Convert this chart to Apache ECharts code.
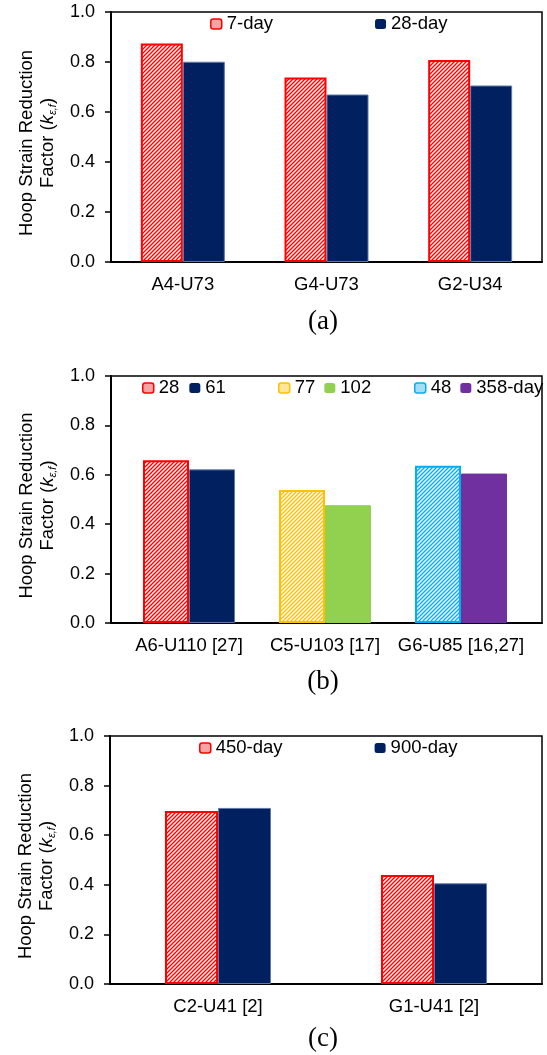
<!DOCTYPE html>
<html>
<head>
<meta charset="utf-8">
<script src="https://cdn.jsdelivr.net/npm/echarts@6/dist/echarts.min.js"></script>
<style>
html,body{margin:0;padding:0;background:#fff;}
#c{width:547px;height:1055px;}
</style>
</head>
<body>
<div id="c"></div>
<script>
// ---------- data ----------
const catsA = ['A4-U73', 'G4-U73', 'G2-U34'];
const a7day = [0.874, 0.738, 0.808];
const a28day = [0.801, 0.670, 0.706];

const catsB = ['A6-U110 [27]', 'C5-U103 [17]', 'G6-U85 [16,27]'];
const bFirstNames = ['28', '77', '48'];
const bFirstVals = [0.659, 0.538, 0.637];
const bSecondNames = ['61', '102', '358-day'];
const bSecondVals = [0.622, 0.477, 0.605];

const catsC = ['C2-U41 [2]', 'G1-U41 [2]'];
const c450day = [0.698, 0.440];
const c900day = [0.710, 0.406];

const yTicks = [0, 0.2, 0.4, 0.6, 0.8, 1.0];

// ---------- styles ----------
const SANS = '"Liberation Sans", Arial, Helvetica, sans-serif';
const SERIF = '"Liberation Serif", "Times New Roman", serif';
const NAVY = '#002060';

function hatch(col) {
  const c = document.createElement('canvas');
  c.width = 4; c.height = 4;
  const g = c.getContext('2d');
  g.fillStyle = '#fff'; g.fillRect(0, 0, 4, 4);
  g.strokeStyle = col; g.lineWidth = 1.4;
  g.beginPath();
  g.moveTo(0, 4); g.lineTo(4, 0);
  g.moveTo(-1, 1); g.lineTo(1, -1);
  g.moveTo(3, 5); g.lineTo(5, 3);
  g.stroke();
  return c;
}
const hatchStyle = (col) => ({ color: { image: hatch(col), repeat: 'repeat' }, borderColor: col, borderWidth: 2 });
const solidStyle = (col, b) => ({ color: col, borderColor: b || col, borderWidth: 1 });
const hatchIcon = (fill, border) => ({ color: fill, borderColor: border, borderWidth: 1.5 });
const solidIcon = (col) => ({ color: col, borderWidth: 0 });

const RED = '#ff0000', YEL = '#ffc000', CYA = '#00b0f0';
const firstStyles = [hatchStyle(RED), hatchStyle(YEL), hatchStyle(CYA)];
const firstIcons = [hatchIcon('#f6a3a3', RED), hatchIcon('#ffe699', YEL), hatchIcon('#a6ddf4', CYA)];
const secondColors = [NAVY, '#92d050', '#7030a0'];

// ---------- axes helpers ----------
function yAxisCfg(gi, visible) {
  if (!visible) return { gridIndex: gi, type: 'value', min: 0, max: 1, interval: 0.2, show: false };
  return {
    gridIndex: gi, type: 'value', min: yTicks[0], max: yTicks[yTicks.length - 1], interval: 0.2,
    axisLine: { show: true, lineStyle: { color: '#000', width: 2 } },
    axisTick: { show: true, length: 6, lineStyle: { color: '#000', width: 1.5 } },
    axisLabel: { formatter: v => v.toFixed(1), fontSize: 18, color: '#000', margin: 16, fontFamily: SANS },
    splitLine: { show: false },
    name: '{t|Hoop Strain Reduction}\n{t|Factor (}{k|k}{s|ε,f}{t|)}',
    nameLocation: 'middle', nameRotate: 90, nameGap: 53,
    nameTextStyle: {
      padding: [0, 12, 0, 0],
      rich: {
        t: { fontSize: 18.5, fontFamily: SANS, color: '#000', lineHeight: 21 },
        k: { fontSize: 18.5, fontFamily: SANS, fontStyle: 'italic', color: '#000', lineHeight: 21 },
        s: { fontSize: 11, fontFamily: SANS, fontStyle: 'italic', color: '#000', lineHeight: 21, verticalAlign: 'bottom' }
      }
    }
  };
}
function xCatCfg(gi, cats, showLine) {
  return {
    gridIndex: gi, type: 'category', data: cats,
    axisLine: { show: showLine, lineStyle: { color: '#000', width: 2 } },
    axisTick: { show: false },
    axisLabel: { fontSize: 18.5, color: '#000', margin: 13, fontFamily: SANS, interval: 0 }
  };
}

const frame = { show: true, borderColor: '#000', borderWidth: 1.5, backgroundColor: 'transparent' };

// ---------- series ----------
const series = [];
series.push({ type: 'bar', name: '7-day', xAxisIndex: 0, yAxisIndex: 0, data: a7day, barWidth: 42, barGap: '0%', itemStyle: hatchStyle(RED) });
series.push({ type: 'bar', name: '28-day', xAxisIndex: 0, yAxisIndex: 0, data: a28day, barWidth: 42, barGap: '0%', itemStyle: solidStyle(NAVY, '#5f78aa') });

for (let k = 0; k < catsB.length; k++) {
  series.push({
    type: 'bar', name: bFirstNames[k], xAxisIndex: 2, yAxisIndex: 2, stack: 'first',
    data: catsB.map((_, j) => (j === k ? bFirstVals[k] : null)),
    barWidth: 46, barGap: '0%', itemStyle: firstStyles[k]
  });
  series.push({
    type: 'bar', name: bSecondNames[k], xAxisIndex: 2, yAxisIndex: 2, stack: 'second',
    data: catsB.map((_, j) => (j === k ? bSecondVals[k] : null)),
    barWidth: 46, barGap: '0%', itemStyle: solidStyle(secondColors[k], k === 0 ? '#5f78aa' : secondColors[k])
  });
}

series.push({ type: 'bar', name: '450-day', xAxisIndex: 3, yAxisIndex: 3, data: c450day, barWidth: 53, barGap: '0%', itemStyle: hatchStyle(RED) });
series.push({ type: 'bar', name: '900-day', xAxisIndex: 3, yAxisIndex: 3, data: c900day, barWidth: 53, barGap: '0%', itemStyle: solidStyle(NAVY, '#5f78aa') });

// ---------- legends ----------
const legText = { fontSize: 18.5, color: '#000', fontFamily: SANS, lineHeight: 20 };
function legend(left, top, gap, items) {
  return { left: left, top: top, itemWidth: 11, itemHeight: 10, itemGap: gap, selectedMode: false, padding: 0, textStyle: legText, data: items };
}

const option = {
  animation: false,
  backgroundColor: '#fff',
  grid: [
    Object.assign({ left: 111, right: 5, top: 12, height: 250 }, frame),
    Object.assign({ left: 111, right: 5, top: 376, height: 247 }, frame),
    { left: 121, width: 408, top: 376, height: 247, show: false },
    Object.assign({ left: 110, right: 5, top: 736, height: 248 }, frame)
  ],
  xAxis: [
    xCatCfg(0, catsA, true),
    { gridIndex: 1, type: 'value', min: 0, max: 1, axisLine: { show: true, lineStyle: { color: '#000', width: 2 } }, axisTick: { show: false }, axisLabel: { show: false }, splitLine: { show: false } },
    xCatCfg(2, catsB, false),
    xCatCfg(3, catsC, true)
  ],
  yAxis: [yAxisCfg(0, true), yAxisCfg(1, true), yAxisCfg(2, false), yAxisCfg(3, true)],
  legend: [
    legend(210, 14, 102, [{ name: '7-day', itemStyle: firstIcons[0] }, { name: '28-day', itemStyle: solidIcon(NAVY) }]),
    legend(142, 378, 10, [{ name: bFirstNames[0], itemStyle: firstIcons[0] }, { name: bSecondNames[0], itemStyle: solidIcon(secondColors[0]) }]),
    legend(278, 378, 9, [{ name: bFirstNames[1], itemStyle: firstIcons[1] }, { name: bSecondNames[1], itemStyle: solidIcon(secondColors[1]) }]),
    legend(414, 378, 9, [{ name: bFirstNames[2], itemStyle: firstIcons[2] }, { name: bSecondNames[2], itemStyle: solidIcon(secondColors[2]) }]),
    legend(199, 738, 92, [{ name: '450-day', itemStyle: firstIcons[0] }, { name: '900-day', itemStyle: solidIcon(NAVY) }])
  ],
  graphic: [
    { type: 'text', x: 323, y: 322, style: { text: '(a)', font: '27px ' + SERIF, textAlign: 'center', textVerticalAlign: 'middle', fill: '#000' } },
    { type: 'text', x: 323, y: 682, style: { text: '(b)', font: '27px ' + SERIF, textAlign: 'center', textVerticalAlign: 'middle', fill: '#000' } },
    { type: 'text', x: 323, y: 1039, style: { text: '(c)', font: '27px ' + SERIF, textAlign: 'center', textVerticalAlign: 'middle', fill: '#000' } }
  ],
  series: series
};

const chart = echarts.init(document.getElementById('c'), null, { renderer: 'canvas' });
chart.setOption(option);
</script>
</body>
</html>
